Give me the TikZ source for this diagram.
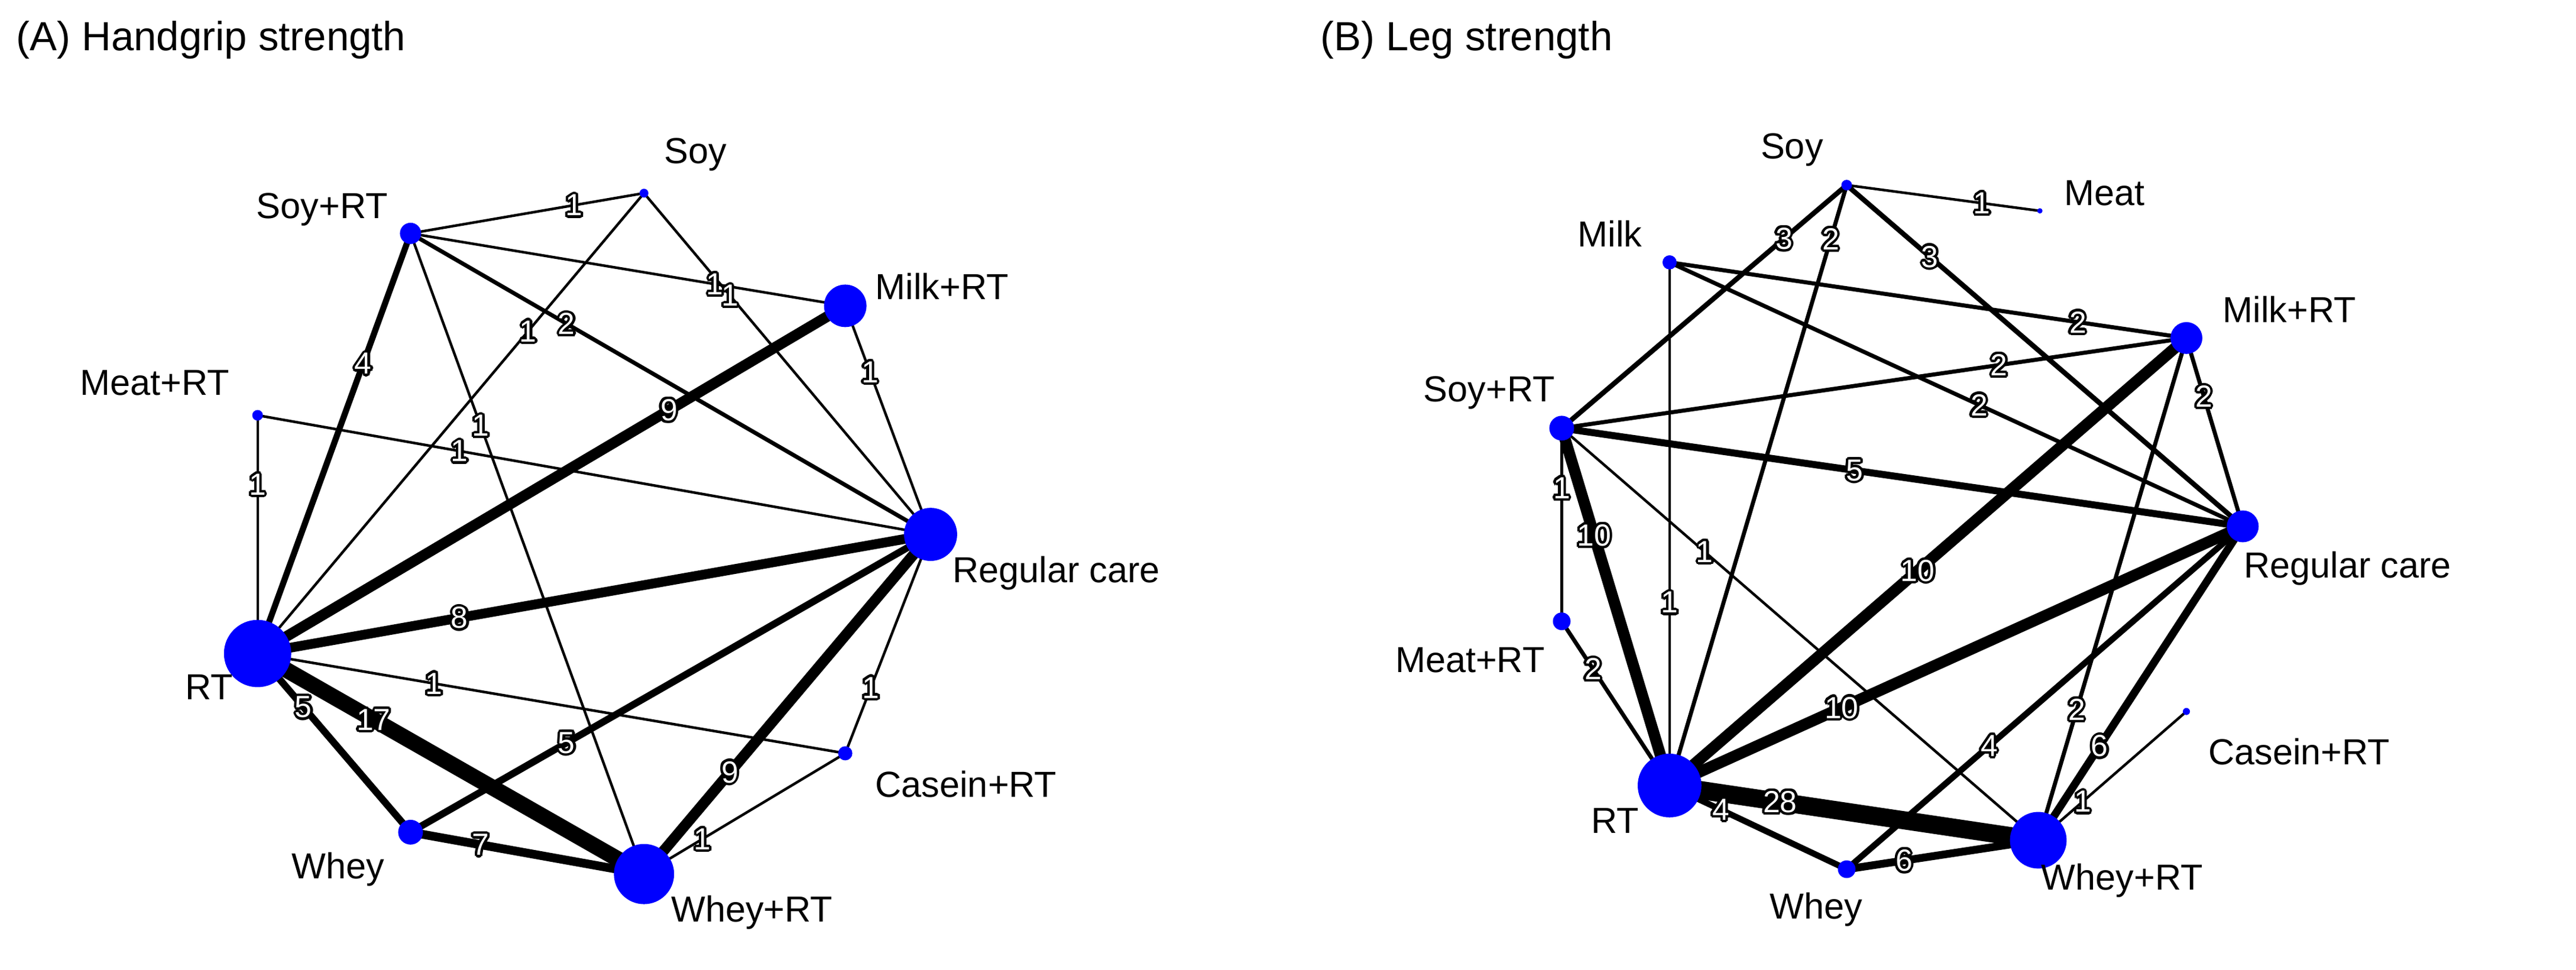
\documentclass[tikz,border=0pt]{standalone}
\usepackage{fontspec}
\setmainfont{Liberation Sans}
\newcommand\olab[1]{\tikz[baseline=(t.base)]{\foreach \a in {0,30,...,330}{\node[inner sep=0,text=black] at (\a:2.2pt) {#1};}\node[inner sep=0,text=white] (t) {#1};}}
\tikzset{
  dot/.style={circle,fill=blue,inner sep=0},
  nlab/.style={font=\fontsize{32}{35}\selectfont,inner sep=0},
  elab/.style={font=\fontsize{27}{30}\selectfont,inner sep=0},
  ttl/.style={font=\fontsize{36}{40}\selectfont,inner sep=0,anchor=west},
  w1/.style={line width=2.3pt},w2/.style={line width=3.6pt},w3/.style={line width=4.4pt},
  w4/.style={line width=5.4pt},w5/.style={line width=6.2pt},w6/.style={line width=6.9pt},
  w7/.style={line width=7.7pt},w8/.style={line width=8.6pt},w9/.style={line width=9.4pt},
  w10/.style={line width=10pt},w17/.style={line width=14pt},w28/.style={line width=16pt},
}
\newcommand\dotat[2]{\node[dot,minimum size=#2*0.055cm] at (#1) {};}
\def\edgesA{w1/aSoy/aSoyRT/0.3/1, w1/aMilkRT/aSoyRT/0.3/1, w1/aSoy/aReg/0.3/1, w1/aSoy/aRT/0.3/1,
 w2/aSoyRT/aReg/0.3/2, w4/aSoyRT/aRT/0.31/4, w1/aSoyRT/aWheyRT/0.3/1, w9/aMilkRT/aRT/0.3/9,
 w1/aMilkRT/aReg/0.29/1, w1/aMeatRT/aRT/0.29/1, w1/aMeatRT/aReg/0.3/1, w8/aRT/aReg/0.3/8,
 w1/aRT/aCas/0.3/1, w5/aRT/aWhey/0.3/5, w17/aRT/aWheyRT/0.3/17, w5/aWhey/aReg/0.3/5,
 w9/aWheyRT/aReg/0.3/9, w1/aCas/aReg/0.3/1, w1/aWheyRT/aCas/0.29/1, w7/aWhey/aWheyRT/0.3/7}
\def\edgesB{w1/bMeat/bSoy/0.3/1, w3/bSoy/bSoyRT/0.22/3, w2/bSoy/bRT/0.09/2, w3/bSoy/bReg/0.21/3,
 w2/bMilk/bMilkRT/0.79/2, w2/bMilk/bReg/0.54/2, w1/bMilk/bRT/0.65/1, w2/bSoyRT/bMilkRT/0.7/2,
 w5/bSoyRT/bReg/0.43/5, w1/bSoyRT/bMeatRT/0.31/1, w10/bSoyRT/bRT/0.3/10, w1/bSoyRT/bWheyRT/0.3/1,
 w2/bMilkRT/bReg/0.31/2, w10/bRT/bMilkRT/0.48/10, w2/bWheyRT/bMilkRT/0.26/2, w10/bRT/bReg/0.3/10,
 w4/bWhey/bReg/0.36/4, w6/bWheyRT/bReg/0.3/6, w2/bMeatRT/bRT/0.29/2, w1/bWheyRT/bCas/0.3/1,
 w28/bRT/bWheyRT/0.3/28, w4/bRT/bWhey/0.29/4, w6/bWhey/bWheyRT/0.3/6}
\begin{document}
\begin{tikzpicture}[x=0.05cm,y=-0.05cm]
\useasboundingbox[fill=white] (0,0) rectangle (1600,602.6);
\node[ttl] (ta) at (10,25) {(A) Handgrip strength};
\node[ttl] (tb) at (820,25) {(B) Leg strength};
% ---------- Panel A
\coordinate (aSoy) at (400,120);
\coordinate (aSoyRT) at (255,145);
\coordinate (aMilkRT) at (525,190);
\coordinate (aMeatRT) at (160,258);
\coordinate (aReg) at (578,332);
\coordinate (aRT) at (160,406);
\coordinate (aCas) at (525,468);
\coordinate (aWhey) at (255,517);
\coordinate (aWheyRT) at (400,543);
% ---------- Panel B
\coordinate (bSoy) at (1147,115);
\coordinate (bMeat) at (1267,131);
\coordinate (bMilk) at (1037,163);
\coordinate (bMilkRT) at (1358,210);
\coordinate (bSoyRT) at (970,266);
\coordinate (bReg) at (1393,327);
\coordinate (bMeatRT) at (970,386);
\coordinate (bCas) at (1358,442);
\coordinate (bRT) at (1037,488);
\coordinate (bWheyRT) at (1266,522);
\coordinate (bWhey) at (1147,540);
\foreach \s/\a/\b/\p/\l in \edgesA {\draw[\s] (\a)--(\b);}
\foreach \s/\a/\b/\p/\l in \edgesB {\draw[\s] (\a)--(\b);}
\dotat{aSoy}{5}\dotat{aSoyRT}{12}\dotat{aMilkRT}{24}\dotat{aMeatRT}{6}
\dotat{aReg}{30}\dotat{aRT}{38}\dotat{aCas}{8}\dotat{aWhey}{14}\dotat{aWheyRT}{34}
\dotat{bSoy}{6}\dotat{bMeat}{3}\dotat{bMilk}{8}\dotat{bMilkRT}{18}\dotat{bSoyRT}{14}
\dotat{bReg}{18}\dotat{bMeatRT}{10}\dotat{bCas}{4}\dotat{bRT}{36}\dotat{bWheyRT}{32}\dotat{bWhey}{10}
\foreach \s/\a/\b/\p/\l in \edgesA {\path (\a)--(\b) node[elab,pos=\p] {\olab{\l}};}
\foreach \s/\a/\b/\p/\l in \edgesB {\path (\a)--(\b) node[elab,pos=\p] {\olab{\l}};}
\node[nlab] (lSoy) at (432,96) {Soy};
\node[nlab] (lSoyRT) at (200,130) {Soy+RT};
\node[nlab] (lMilkRT) at (585,178) {Milk+RT};
\node[nlab] (lMeatRT) at (96,238) {Meat+RT};
\node[nlab] (lReg) at (656,356) {Regular care};
\node[nlab] (lRT) at (130,427) {RT};
\node[nlab] (lCas) at (600,487) {Casein+RT};
\node[nlab] (lWhey) at (210,540) {Whey};
\node[nlab] (lWheyRT) at (467,567) {Whey+RT};
\node[nlab] (mSoy) at (1113,93) {Soy};
\node[nlab] (mMeat) at (1307,120) {Meat};
\node[nlab] (mMilk) at (1000,145) {Milk};
\node[nlab] (mMilkRT) at (1422,192) {Milk+RT};
\node[nlab] (mSoyRT) at (925,244) {Soy+RT};
\node[nlab] (mReg) at (1458,353) {Regular care};
\node[nlab] (mMeatRT) at (913,410) {Meat+RT};
\node[nlab] (mCas) at (1428,467) {Casein+RT};
\node[nlab] (mRT) at (1003,510) {RT};
\node[nlab] (mWheyRT) at (1318,547) {Whey+RT};
\node[nlab] (mWhey) at (1128,565) {Whey};
\end{tikzpicture}
\end{document}
